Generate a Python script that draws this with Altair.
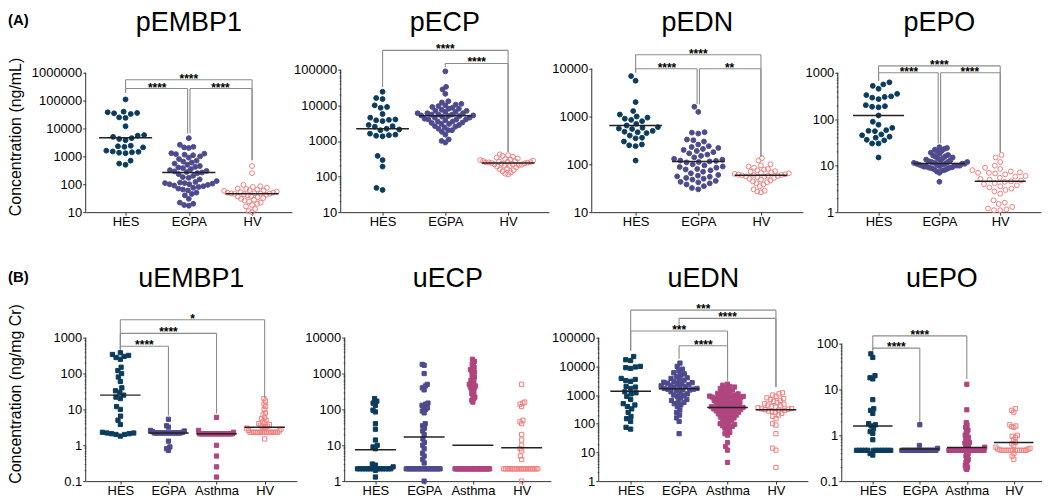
import json
import math
import altair as alt
import pandas as pd

FONT = "Liberation Sans"

# ---------------- groups & colours ----------------
groups_plasma = ["HES", "EGPA", "HV"]
groups_urine = ["HES", "EGPA", "Asthma", "HV"]
all_groups = ["HES", "EGPA", "Asthma", "HV"]
stroke_colors = ["#0b3c5d", "#4e4a8e", "#b0457f", "#f07f7f"]
fill_colors = ["#0b3c5d", "#4e4a8e", "#b0457f", "transparent"]

# ---------------- (A) plasma ----------------
pEMBP1_HES = [110000, 40000, 38000, 36000, 35000, 33000, 25000, 24000, 12000, 5800, 5500, 5000, 4500, 4200,
              3800, 2400, 2300, 2200, 2100, 1600, 1500, 1450, 1400, 1350, 1300, 700, 550, 500]
pEMBP1_EGPA = [4500, 2600, 2200, 2100, 2000, 1300, 1250, 1200, 1150, 1100, 1000, 900, 800, 700, 650, 600, 550,
               500, 450, 420, 400, 380, 350, 320, 300, 290, 275, 263, 250, 230, 200, 180, 170, 150, 130, 120,
               115, 110, 110, 105, 100, 100, 95, 90, 85, 80, 75, 70, 65, 60, 50, 45, 40, 30, 22, 20, 18, 17]
pEMBP1_HV = [450, 250, 95, 85, 80, 75, 70, 68, 65, 62, 60, 58, 55, 52, 50, 50, 48, 47, 46, 46, 45, 44, 42, 40,
             38, 36, 34, 32, 30, 28, 26, 24, 22, 20, 18, 16, 13, 11, 10]
pEMBP1_median = [4650, 263, 46]
pEMBP1_brackets = [("HES", "HV", 5.6e5, 1.9e5, 730, "****"),
                   ("HES", "EGPA", 2.7e5, 1.9e5, 6600, "****"),
                   ("EGPA", "HV", 2.7e5, 6600, 730, "****")]

pECP_HES = [24000, 16000, 15000, 10000, 9000, 8500, 5700, 4500, 4000, 3900, 3800, 3600, 2800, 2600, 2500, 2200,
            2100, 2000, 1600, 1500, 1450, 1400, 1350, 380, 290, 190, 48, 42]
pECP_EGPA = [90000, 33000, 28000, 21000, 13000, 12000, 11000, 10500, 10000, 9500, 9000, 8500, 8000, 8000, 7500,
             7000, 7000, 6500, 6500, 6000, 6000, 6000, 5500, 5500, 5500, 5200, 5200, 5000, 5000, 4800, 4500, 4500,
             4200, 4000, 4000, 4000, 3800, 3500, 3500, 3300, 3200, 3000, 3000, 2800, 2600, 2500, 2400, 2200, 2000,
             2000, 1800, 1500, 1100, 1000, 900]
pECP_HV = [420, 400, 380, 360, 340, 320, 310, 300, 290, 280, 275, 270, 265, 260, 255, 250, 250, 245, 240, 235,
           230, 225, 220, 215, 210, 200, 195, 190, 180, 170, 160, 150, 140, 130, 120, 115]
pECP_median = [2200, 5100, 240]
pECP_brackets = [("HES", "HV", 3.5e5, 3.2e4, 490, "****"),
                 ("EGPA", "HV", 1.5e5, 1.2e5, 490, "****")]

pEDN_HES = [7000, 5600, 2000, 1300, 1100, 1000, 950, 900, 850, 800, 700, 650, 600, 580, 560, 550, 500, 480, 470,
            450, 400, 360, 350, 300, 260, 250, 240, 120]
pEDN_EGPA = [1600, 1250, 470, 460, 440, 330, 320, 300, 260, 240, 230, 220, 210, 200, 190, 180, 170, 160, 150, 140,
             130, 125, 120, 118, 115, 112, 110, 100, 95, 90, 88, 85, 80, 78, 75, 70, 65, 60, 58, 56, 55, 52, 50,
             48, 45, 43, 42, 40, 38, 35, 32, 30]
pEDN_HV = [135, 120, 100, 95, 90, 85, 80, 78, 75, 72, 70, 68, 66, 65, 63, 62, 61, 60, 60, 59, 58, 57, 56, 55, 54,
           52, 50, 48, 46, 44, 42, 40, 38, 35, 30, 28, 27, 26]
pEDN_median = [650, 115, 59]
pEDN_brackets = [("HES", "HV", 1.96e4, 8300, 142, "****"),
                 ("HES", "EGPA", 1.0e4, 8300, 1800, "****"),
                 ("EGPA", "HV", 1.0e4, 1800, 142, "**")]

pEPO_HES = [620, 560, 520, 450, 350, 330, 310, 300, 290, 270, 200, 190, 185, 180, 120, 88, 76, 65, 58, 56, 55,
            47, 45, 42, 40, 36, 35, 30, 30, 15]
pEPO_EGPA = [25, 24, 23, 22, 21, 20, 19, 18, 17, 16.5, 16, 15.5, 15, 14.5, 14, 13.5, 13, 13, 12.5, 12, 12, 12,
             11.5, 11.5, 11, 11, 11, 11, 10.5, 10.5, 10.5, 10, 10, 10, 10, 9.8, 9.5, 9.5, 9.2, 9, 9, 8.8, 8.5, 8.3,
             8, 7.8, 7.5, 7, 4.5]
pEPO_HV = [17, 15, 12, 10, 9, 8.5, 8, 7.5, 7.2, 7, 7, 6.8, 6.5, 6, 5.8, 5.5, 5.2, 5, 4.8, 4.6, 4.5, 4.2, 4, 3.8,
           3.6, 3.4, 3.2, 3, 2.8, 2.5, 1.8, 1.6, 1.5, 1.3, 1.2, 1.15, 1.1, 1.1]
pEPO_median = [120, 11.2, 4.6]
pEPO_brackets = [("HES", "HV", 1400, 670, 19.5, "****"),
                 ("HES", "EGPA", 1000, 670, 30, "****"),
                 ("EGPA", "HV", 1000, 30, 19.5, "****")]

# ---------------- (B) urine ----------------
uEMBP1_HES = [380, 340, 320, 300, 280, 250, 150, 120, 100, 80, 60, 40, 33, 30, 25, 22, 20, 12, 10, 6.5, 5, 3.8,
              2.3, 2.2, 2.2, 2.1, 2.1, 2.0, 2.0, 1.8]
uEMBP1_EGPA = [5.3, 3.5, 3.2, 2.6, 2.5, 2.4, 2.3, 2.2, 2.2, 2.2, 2.2, 2.2, 2.2, 2.2, 2.2, 2.2, 2.2, 2.2, 2.2, 2.2,
               2.2, 1.3, 0.9, 0.8, 0.72]
uEMBP1_Asthma = [6, 2.6, 2.3, 2.1, 2.1, 2.1, 2.1, 2.1, 2.1, 2.1, 2.1, 2.1, 2.1, 2.1, 2.1, 2.1, 2.1, 2.1, 2.1, 2.1,
                 2.1, 2.1, 2.1, 2.1, 2.1, 2.1, 2.1, 2.1, 2.1, 2.1, 2.1, 2.1, 2.1, 1.0, 0.5, 0.25, 0.13]
uEMBP1_HV = [20, 17, 14, 12, 10, 8, 7, 6, 5.5, 5, 4.5, 4.2, 4, 3.8, 3.6, 3.4, 3.3, 3.2, 3.1, 3.0, 2.8, 2.6, 2.5,
             2.3, 2.3, 2.3, 2.3, 2.3, 2.3, 2.3, 2.3, 2.3, 2.3, 2.3, 2.3, 2.3, 2.3, 2.3, 2.3, 1.5]
uEMBP1_median = [25, 2.2, 2.1, 3.2]
uEMBP1_brackets = [("HES", "HV", 3160, 470, 20, "*"),
                   ("HES", "Asthma", 1320, 470, 7.8, "****"),
                   ("HES", "EGPA", 575, 470, 6.8, "****")]

uECP_HES = [200, 170, 150, 130, 95, 85, 40, 28, 14, 10, 9, 8, 3, 2.8, 2.5, 2.2, 2.2, 2.2, 2.2, 2.2, 2.2, 2.2,
            2.2, 2.2, 2.2, 2.2, 2.2, 2.2, 2.0, 1.3]
uECP_EGPA = [1800, 1700, 1000, 500, 450, 400, 350, 150, 140, 130, 120, 110, 100, 90, 80, 40, 35, 30, 25, 20, 15,
             12, 10, 8, 6, 5, 4, 3.2, 2.2, 2.2, 2.2, 2.2, 2.2, 2.2, 2.2, 2.2, 2.2, 2.2, 2.2, 2.2, 2.2, 2.2, 2.2,
             2.2, 2.2, 2.2, 1.0]
uECP_Asthma = [2500, 2200, 2000, 1800, 1500, 1400, 1300, 1200, 1100, 1000, 900, 800, 700, 650, 600, 550, 500, 480,
               450, 420, 400, 380, 350, 300, 280, 250, 220, 200, 180, 160, 2.2, 2.2, 2.2, 2.2, 2.2, 2.2, 2.2, 2.2,
               2.2, 2.2, 2.2, 2.2, 2.2, 2.2, 2.2, 2.2, 2.2, 2.2, 2.2, 2.2, 2.2, 2.2, 2.2, 2.2, 2.2, 2.2, 2.2, 2.2,
               2.2, 2.2]
uECP_HV = [500, 160, 150, 140, 120, 50, 45, 40, 20, 14, 10, 8, 7, 5, 4, 2.2, 2.2, 2.2, 2.2, 2.2, 2.2, 2.2, 2.2,
           2.2, 2.2, 2.2, 2.2, 2.2, 2.2, 2.2, 2.2, 2.2, 2.2, 2.2, 2.2, 1.0]
uECP_median = [7.5, 17, 10, 8.5]
uECP_brackets = []

uEDN_HES = [22000, 17000, 16000, 10000, 9500, 9000, 8500, 3800, 3500, 3200, 3000, 2000, 1900, 1700, 1300, 1200,
            1100, 900, 700, 500, 450, 400, 330, 250, 180, 150, 120, 75, 65]
uEDN_EGPA = [13000, 10000, 8000, 7000, 6000, 5500, 5000, 4500, 4000, 3800, 3500, 3300, 3000, 2800, 2700, 2600,
             2500, 2400, 2300, 2200, 2100, 2000, 1900, 1800, 1700, 1700, 1600, 1600, 1500, 1500, 1400, 1300, 1200,
             1100, 1000, 950, 900, 800, 700, 650, 600, 550, 500, 450, 400, 300, 250, 200, 160, 120, 45]
uEDN_Asthma = [2400, 2200, 2000, 1900, 1800, 1700, 1600, 1500, 1400, 1300, 1200, 1150, 1100, 1050, 1000, 980,
               950, 920, 900, 870, 850, 820, 800, 780, 750, 720, 700, 680, 650, 620, 600, 580, 560, 540, 520, 500,
               480, 460, 440, 420, 400, 390, 380, 370, 360, 350, 340, 330, 320, 310, 300, 290, 280, 270, 260, 250,
               240, 230, 220, 210, 200, 190, 180, 170, 160, 150, 140, 130, 120, 110, 100, 95, 90, 85, 80, 75, 70,
               60, 50, 45, 40, 22, 16, 12, 4.5]
uEDN_HV = [1200, 1100, 1000, 900, 800, 750, 700, 650, 600, 550, 500, 480, 450, 420, 400, 380, 360, 340, 330, 320,
           310, 300, 290, 280, 270, 250, 230, 200, 180, 150, 100, 90, 45, 14, 12, 3]
uEDN_median = [1350, 1650, 370, 310]
uEDN_brackets = [("HES", "HV", 9.1e5, 3.5e4, 1900, "***"),
                 ("EGPA", "HV", 4.7e5, 2.8e5, 1900, "****"),
                 ("HES", "Asthma", 1.7e5, 3.5e4, 3200, "***"),
                 ("EGPA", "Asthma", 5.2e4, 1.86e4, 3200, "****")]

uEPO_HES = [60, 50, 20, 18, 17, 6, 3.8, 3.5, 3.0, 1.8, 1.7, 1.6, 1.4, 1.2, 1.1, 0.8, 0.47, 0.47, 0.47, 0.47, 0.47,
            0.47, 0.47, 0.47, 0.47, 0.47, 0.47, 0.47, 0.4, 0.37]
uEPO_EGPA = [1.7, 0.6, 0.52, 0.47, 0.47, 0.47, 0.47, 0.47, 0.47, 0.47, 0.47, 0.47, 0.47, 0.47, 0.47, 0.47, 0.47,
             0.47, 0.47, 0.47, 0.47, 0.47, 0.47]
uEPO_Asthma = [13, 3.6, 1.9, 1.7, 1.5, 1.4, 1.3, 1.2, 1.1, 1.0, 0.95, 0.9, 0.85, 0.8, 0.75, 0.7, 0.68, 0.65, 0.62,
               0.6, 0.58, 0.55, 0.52, 0.5, 0.47, 0.47, 0.47, 0.47, 0.47, 0.47, 0.47, 0.47, 0.47, 0.47, 0.47, 0.47,
               0.47, 0.47, 0.47, 0.47, 0.47, 0.47, 0.47, 0.47, 0.47, 0.47, 0.47, 0.47, 0.47, 0.47, 0.47, 0.47, 0.47,
               0.47, 0.47, 0.47, 0.47, 0.47, 0.47, 0.47, 0.47, 0.47, 0.47, 0.47, 0.42, 0.4, 0.38, 0.35, 0.32, 0.3,
               0.28, 0.26, 0.24, 0.22, 0.2, 0.19, 0.18]
uEPO_HV = [3.8, 3.5, 3.2, 1.7, 1.6, 1.55, 1.5, 1.0, 0.95, 0.9, 0.8, 0.7, 0.65, 0.6, 0.55, 0.52, 0.5, 0.5, 0.48,
           0.47, 0.47, 0.47, 0.47, 0.47, 0.47, 0.47, 0.47, 0.47, 0.47, 0.47, 0.47, 0.4, 0.35, 0.3]
uEPO_median = [1.6, 0.5, 0.54, 0.7]
uEPO_brackets = [("HES", "Asthma", 148, 71, 17, "****"),
                 ("HES", "EGPA", 80, 71, 1.95, "****")]

# ---------------- layout (pixels) ----------------
ROW_A = dict(height=172, shape="circle", size=24, d=6.5, maxw=28, title_offset=-17, ytitle_y=96,
             ytitle="Concentration (ng/mL)", tag="(A)", tag_offset=-19)
ROW_B = dict(height=183, shape="square", size=18, d=5.0, maxw=18, title_offset=-15, ytitle_y=95,
             ytitle="Concentration (ng/mg Cr)", tag="(B)", tag_offset=-20)

panels_A = [
    dict(name="pEMBP1", groups=groups_plasma, values=[pEMBP1_HES, pEMBP1_EGPA, pEMBP1_HV], med=pEMBP1_median,
         br=pEMBP1_brackets, bottom=10, top=1e6, ppd=28.0, width=207, xd=(-0.63, 2.63), ext=55, minor=False,
         first=True),
    dict(name="pECP", groups=groups_plasma, values=[pECP_HES, pECP_EGPA, pECP_HV], med=pECP_median,
         br=pECP_brackets, bottom=10, top=1e5, ppd=35.75, width=209, xd=(-0.667, 2.65), ext=49, minor=True),
    dict(name="pEDN", groups=groups_plasma, values=[pEDN_HES, pEDN_EGPA, pEDN_HV], med=pEDN_median,
         br=pEDN_brackets, bottom=10, top=1e4, ppd=48.0, width=212, xd=(-0.70, 2.67), ext=43, minor=False),
    dict(name="pEPO", groups=groups_plasma, values=[pEPO_HES, pEPO_EGPA, pEPO_HV], med=pEPO_median,
         br=pEPO_brackets, bottom=1, top=1e3, ppd=46.67, width=204, xd=(-0.67, 2.67), ext=35, minor=True),
]
panels_B = [
    dict(name="uEMBP1", groups=groups_urine, values=[uEMBP1_HES, uEMBP1_EGPA, uEMBP1_Asthma, uEMBP1_HV],
         med=uEMBP1_median, br=uEMBP1_brackets, bottom=0.1, top=1e3, ppd=36.0, width=212, xd=(-0.72, 3.67),
         ext=55, minor=True, first=True),
    dict(name="uECP", groups=groups_urine, values=[uECP_HES, uECP_EGPA, uECP_Asthma, uECP_HV],
         med=uECP_median, br=uECP_brackets, bottom=1, top=1e4, ppd=36.0, width=207, xd=(-0.63, 3.6),
         ext=48, minor=True),
    dict(name="uEDN", groups=groups_urine, values=[uEDN_HES, uEDN_EGPA, uEDN_Asthma, uEDN_HV],
         med=uEDN_median, br=uEDN_brackets, bottom=1, top=1e5, ppd=28.8, width=210, xd=(-0.66, 3.66),
         ext=None, minor=True),
    dict(name="uEPO", groups=groups_urine, values=[uEPO_HES, uEPO_EGPA, uEPO_Asthma, uEPO_HV],
         med=uEPO_median, br=uEPO_brackets, bottom=0.1, top=100, ppd=46.0, width=201, xd=(-0.66, 3.6),
         ext=34, minor=True),
]

DEC = "abs(log(datum.value)/LN10 - round(log(datum.value)/LN10)) < 0.001"


def swarm(ys, d, maxw):
    n = len(ys)
    order = sorted(range(n), key=lambda i: ys[i])
    xs = [0.0] * n
    placed = []
    for i in order:
        y = ys[i]
        near = [(px, py) for (px, py) in placed if abs(py - y) < d]
        cands = [0.0]
        for px, py in near:
            dx = math.sqrt(max(d * d - (py - y) ** 2, 0))
            cands += [px + dx, px - dx]
        cands.sort(key=lambda c: (round(abs(c), 6), c))
        for c in cands:
            if all((c - px) ** 2 + (y - py) ** 2 >= d * d - 1e-6 for px, py in near):
                xs[i] = c
                break
        placed.append((xs[i], y))
    m = max(abs(x) for x in xs) if xs else 0
    if m > maxw:
        xs = [x * maxw / m for x in xs]
    return xs


def make_panel(p, row):
    groups = p["groups"]
    H = row["height"]
    B, T, ppd = p["bottom"], p["top"], p["ppd"]
    xmin, xmax = p["xd"]
    pxu = p["width"] / (xmax - xmin)
    dom_top = B * 10 ** (H / ppd)
    yscale = alt.Scale(type="log", domain=[B, dom_top], nice=False)
    xscale = alt.Scale(domain=[xmin, xmax], nice=False, zero=False)

    recs = []
    for gi, g in enumerate(groups):
        vals = p["values"][gi]
        ys = [(math.log10(v) - math.log10(B)) * ppd for v in vals]
        offs = swarm(ys, row["d"], row["maxw"])
        for v, o in zip(vals, offs):
            recs.append({"group": g, "value": v, "x": gi + o / pxu})
    df = pd.DataFrame(recs)

    # y ticks (decades, plus minor ticks where the reference shows them)
    e0, e1 = round(math.log10(B)), round(math.log10(T))
    ticks = []
    for e in range(e0, e1 + 1):
        for k in (range(1, 10) if p["minor"] else [1]):
            v = float(f"{k}e{e}")
            if v <= T * 1.0001:
                ticks.append(v)

    yaxis_kw = dict(values=ticks, labelExpr=f"{DEC} ? toString(datum.value) : ''",
                    tickSize={"condition": {"test": DEC, "value": 3}, "value": 1.5},
                    domain=False, grid=False, labelFontSize=13, labelFont=FONT, labelColor="black",
                    labelPadding=1, tickColor="#333333", tickWidth=1, labelOverlap=False, labelFlush=False)
    if p["ext"]:
        yaxis_kw["minExtent"] = p["ext"]
    if p.get("first"):
        yaxis_kw.update(title=row["ytitle"], titleFontSize=16, titleFont=FONT, titleFontWeight="normal",
                        titleColor="black", titlePadding=7, titleY=row["ytitle_y"])
    else:
        yaxis_kw["title"] = None
    yaxis = alt.Axis(**yaxis_kw)

    xaxis = alt.Axis(values=list(range(len(groups))), labelExpr=f"{json.dumps(groups)}[round(datum.value)]",
                     title=None, grid=False, domainColor="#333333", domainWidth=1, tickColor="#333333",
                     tickSize=3, labelFontSize=13, labelFont=FONT, labelColor="black", labelPadding=0,
                     labelFlush=False, labelOverlap=False, labelAngle=0)

    stroke_scale = alt.Scale(domain=all_groups, range=stroke_colors)
    fill_scale = alt.Scale(domain=all_groups, range=fill_colors)

    def X(field):
        return alt.X(field, scale=xscale, axis=xaxis)

    def Y(field):
        return alt.Y(field, scale=yscale, axis=yaxis)

    pts = alt.Chart(df).mark_point(shape=row["shape"], size=row["size"], strokeWidth=1, opacity=1,
                                   filled=True).encode(
        x=X("x:Q"), y=Y("value:Q"),
        stroke=alt.Stroke("group:N", scale=stroke_scale, legend=None),
        fill=alt.Fill("group:N", scale=fill_scale, legend=None),
    )

    med = pd.DataFrame({"group": groups, "value": p["med"]})
    med["gi"] = range(len(groups))
    med["x1"] = med["gi"] - 0.42
    med["x2"] = med["gi"] + 0.42
    med_layer = alt.Chart(med).mark_rule(color="#222222", strokeWidth=1.5).encode(
        x=X("x1:Q"), x2="x2:Q", y=Y("value:Q"))

    ax = pd.DataFrame({"x": [xmin], "y": [B], "y2": [T]})
    ax_layer = alt.Chart(ax).mark_rule(color="#333333", strokeWidth=1).encode(
        x=X("x:Q"), y=Y("y:Q"), y2="y2:Q")

    layers = [pts, med_layer]

    if p["br"]:
        lefts = {b[0] for b in p["br"]}
        rights = {b[1] for b in p["br"]}
        nud = 1.2 / pxu
        brs = []
        for g1, g2, lev, d1, d2, lab in p["br"]:
            x1 = groups.index(g1) + (nud if g1 in rights else 0)
            x2 = groups.index(g2) - (nud if g2 in lefts else 0)
            brs.append({"x1": x1, "x2": x2, "xm": (groups.index(g1) + groups.index(g2)) / 2,
                        "level": lev, "d1": d1, "d2": d2, "label": lab})
        bdf = pd.DataFrame(brs)
        base = alt.Chart(bdf)
        gray = "#8c8c8c"
        hline = base.mark_rule(color=gray, strokeWidth=1.1).encode(
            x=X("x1:Q"), x2="x2:Q", y=Y("level:Q"))
        v1 = base.mark_rule(color=gray, strokeWidth=1.1).encode(
            x=X("x1:Q"), y=Y("level:Q"), y2="d1:Q")
        v2 = base.mark_rule(color=gray, strokeWidth=1.1).encode(
            x=X("x2:Q"), y=Y("level:Q"), y2="d2:Q")
        stars = base.mark_text(font=FONT, fontSize=12, fontWeight="bold", baseline="alphabetic",
                               align="center", dy=3, color="black").encode(
            x=X("xm:Q"), y=Y("level:Q"), text="label:N")
        layers += [hline, v1, v2, stars]

    layers.append(ax_layer)

    return alt.layer(*layers).properties(
        width=p["width"], height=H,
        title=alt.TitleParams(text=p["name"], fontSize=27, fontWeight="normal", font=FONT, color="black",
                              anchor="middle", frame="group", baseline="alphabetic",
                              offset=row["title_offset"]))


def make_row(panels, row):
    return alt.hconcat(*[make_panel(p, row) for p in panels], spacing=0).properties(
        title=alt.TitleParams(text=row["tag"], anchor="start", fontSize=15, fontWeight="bold", font=FONT,
                              color="black", baseline="top", offset=row["tag_offset"]))


chart = alt.vconcat(make_row(panels_A, ROW_A), make_row(panels_B, ROW_B), spacing=37).properties(
    padding={"left": 0, "top": 0, "right": 0, "bottom": 0}
).configure(font=FONT).configure_view(stroke=None)

chart.save("out.html", embed_options={"renderer": "svg", "actions": False})
